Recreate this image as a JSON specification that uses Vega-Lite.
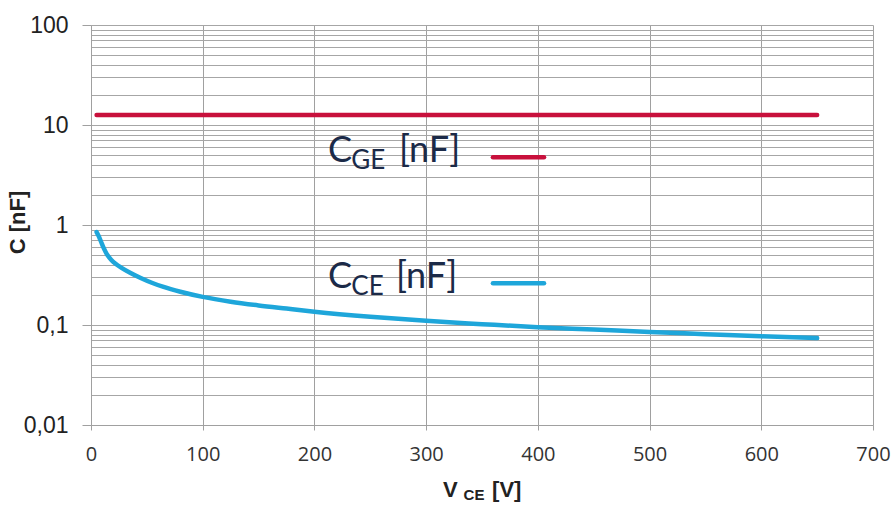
{
  "$schema": "https://vega.github.io/schema/vega-lite/v6.json",
  "autosize": {"type": "none"},
  "width": 782,
  "height": 400,
  "padding": {"left": 91, "top": 25, "right": 22, "bottom": 83},
  "background": "white",
  "config": {"view": {"stroke": null}},
  "datasets": {
    "curves": [
      {"series": "CGE", "x": 5, "y": 12.6},
      {"series": "CGE", "x": 100, "y": 12.6},
      {"series": "CGE", "x": 200, "y": 12.6},
      {"series": "CGE", "x": 300, "y": 12.6},
      {"series": "CGE", "x": 400, "y": 12.6},
      {"series": "CGE", "x": 500, "y": 12.6},
      {"series": "CGE", "x": 600, "y": 12.6},
      {"series": "CGE", "x": 650, "y": 12.6},
      {"series": "CCE", "x": 5, "y": 0.85},
      {"series": "CCE", "x": 7, "y": 0.77},
      {"series": "CCE", "x": 9, "y": 0.68},
      {"series": "CCE", "x": 11, "y": 0.6},
      {"series": "CCE", "x": 13, "y": 0.54},
      {"series": "CCE", "x": 15, "y": 0.495},
      {"series": "CCE", "x": 18, "y": 0.45},
      {"series": "CCE", "x": 22, "y": 0.41},
      {"series": "CCE", "x": 27, "y": 0.375},
      {"series": "CCE", "x": 35, "y": 0.333},
      {"series": "CCE", "x": 44, "y": 0.297},
      {"series": "CCE", "x": 55, "y": 0.263},
      {"series": "CCE", "x": 65, "y": 0.24},
      {"series": "CCE", "x": 80, "y": 0.215},
      {"series": "CCE", "x": 100, "y": 0.191},
      {"series": "CCE", "x": 125, "y": 0.171},
      {"series": "CCE", "x": 150, "y": 0.157},
      {"series": "CCE", "x": 175, "y": 0.146},
      {"series": "CCE", "x": 200, "y": 0.136},
      {"series": "CCE", "x": 250, "y": 0.121},
      {"series": "CCE", "x": 300, "y": 0.11},
      {"series": "CCE", "x": 350, "y": 0.102},
      {"series": "CCE", "x": 400, "y": 0.095},
      {"series": "CCE", "x": 450, "y": 0.09},
      {"series": "CCE", "x": 500, "y": 0.085},
      {"series": "CCE", "x": 550, "y": 0.081},
      {"series": "CCE", "x": 600, "y": 0.077},
      {"series": "CCE", "x": 650, "y": 0.074}
    ],
    "legendLines": [
      {"series": "CGE", "x": 359.8, "x2": 405.5, "y": 4.75},
      {"series": "CCE", "x": 359.8, "x2": 405.5, "y": 0.261}
    ],
    "labels": [
      {"role": "legendMain", "text": "C", "x": 212.1, "y": 4.3},
      {"role": "legendSub", "text": "GE", "x": 233, "y": 4.3},
      {"role": "legendMain", "text": "[nF]", "x": 275.7, "y": 4.3},
      {"role": "legendMain", "text": "C", "x": 212.1, "y": 0.233},
      {"role": "legendSub", "text": "CE", "x": 233, "y": 0.233},
      {"role": "legendMain", "text": "[nF]", "x": 273, "y": 0.233},
      {"role": "titleMain", "text": "V", "x": 315.1, "y": 0.0019},
      {"role": "titleSub", "text": "CE", "x": 333.5, "y": 0.0019},
      {"role": "titleMain", "text": "[V]", "x": 359, "y": 0.0019}
    ]
  },
  "encoding": {
    "x": {
      "field": "x", "type": "quantitative",
      "scale": {"domain": [0, 700], "nice": false, "zero": false},
      "axis": {
        "values": [0, 100, 200, 300, 400, 500, 600, 700],
        "title": null,
        "grid": true, "gridColor": "#a0a0a0", "gridWidth": 1,
        "domainColor": "#a0a0a0", "domainWidth": 1,
        "tickColor": "#a0a0a0", "tickSize": 5,
        "labelFont": "Open Sans", "labelFontSize": 20, "labelColor": "#333333",
        "labelPadding": 14, "labelFlush": false, "labelOverlap": false, "labelBound": false
      }
    },
    "y": {
      "field": "y", "type": "quantitative",
      "scale": {"type": "log", "domain": [0.01, 100], "nice": false},
      "axis": {
        "values": [0.01, 0.02, 0.03, 0.04, 0.05, 0.06, 0.07, 0.08, 0.09, 0.1, 0.2, 0.3, 0.4, 0.5, 0.6, 0.7, 0.8, 0.9, 1, 2, 3, 4, 5, 6, 7, 8, 9, 10, 20, 30, 40, 50, 60, 70, 80, 90, 100],
        "title": "C [nF]",
        "titleFont": "Liberation Sans", "titleFontSize": 22, "titleFontWeight": "bold", "titleColor": "#222222",
        "titleAngle": -90, "titleAlign": "center", "titleBaseline": "middle",
        "titleX": -74, "titleY": 197,
        "grid": true, "gridColor": "#a6a6a6", "gridWidth": 1,
        "domainColor": "#a0a0a0", "domainWidth": 1,
        "tickColor": "#a0a0a0", "tickSize": 9,
        "tickOpacity": {"condition": {"test": "abs(log(datum.value)/LN10 - round(log(datum.value)/LN10)) < 0.000001", "value": 1}, "value": 0},
        "labelExpr": "abs(log(datum.value)/LN10 - round(log(datum.value)/LN10)) < 0.000001 ? (datum.value >= 1 ? format(datum.value, 'd') : replace(format(datum.value, '.2~f'), '.', ',')) : ''",
        "labelFont": "Liberation Sans", "labelFontSize": 23, "labelColor": "#222222",
        "labelPadding": 14, "labelOverlap": false, "labelBound": false
      }
    }
  },
  "layer": [
    {
      "data": {"name": "curves"},
      "mark": {"type": "line", "strokeWidth": 4.5, "strokeCap": "round", "strokeJoin": "round", "interpolate": "monotone"},
      "encoding": {
        "color": {
          "field": "series", "type": "nominal",
          "scale": {"domain": ["CGE", "CCE"], "range": ["#c8103c", "#1ea6da"]},
          "legend": null
        }
      }
    },
    {
      "data": {"name": "legendLines"},
      "mark": {"type": "rule", "strokeWidth": 4.5, "strokeCap": "round"},
      "encoding": {
        "x2": {"field": "x2"},
        "color": {"field": "series", "type": "nominal", "scale": {"domain": ["CGE", "CCE"], "range": ["#c8103c", "#1ea6da"]}, "legend": null}
      }
    },
    {
      "data": {"name": "labels"},
      "transform": [{"filter": "datum.role === 'legendMain'"}],
      "mark": {"type": "text", "font": "Lato", "fontSize": 36, "align": "left", "baseline": "alphabetic", "color": "#1b2a48"},
      "encoding": {"text": {"field": "text"}}
    },
    {
      "data": {"name": "labels"},
      "transform": [{"filter": "datum.role === 'legendSub'"}],
      "mark": {"type": "text", "font": "Lato", "fontSize": 26, "align": "left", "baseline": "alphabetic", "dy": 7, "color": "#1b2a48"},
      "encoding": {"text": {"field": "text"}}
    },
    {
      "data": {"name": "labels"},
      "transform": [{"filter": "datum.role === 'titleMain'"}],
      "mark": {"type": "text", "font": "Liberation Sans", "fontSize": 22, "fontWeight": "bold", "align": "left", "baseline": "alphabetic", "color": "#222222"},
      "encoding": {"text": {"field": "text"}}
    },
    {
      "data": {"name": "labels"},
      "transform": [{"filter": "datum.role === 'titleSub'"}],
      "mark": {"type": "text", "font": "Liberation Sans", "fontSize": 15, "fontWeight": "bold", "align": "left", "baseline": "alphabetic", "dy": 3, "color": "#222222"},
      "encoding": {"text": {"field": "text"}}
    }
  ]
}
